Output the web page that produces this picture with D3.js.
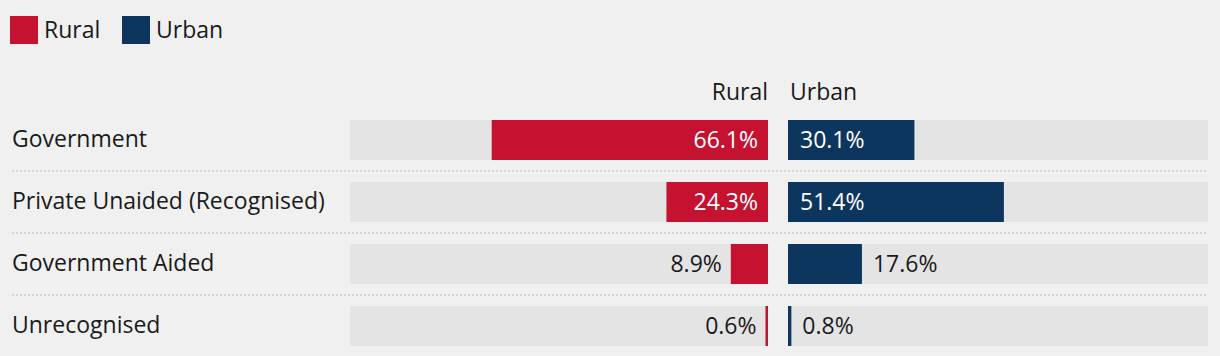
<!DOCTYPE html>
<html>
<head>
<meta charset="utf-8">
<script src="https://cdn.jsdelivr.net/npm/d3@7"></script>
<style>
  html, body { margin: 0; padding: 0; background: #f0f0f0; }
  svg { display: block; }
  text { font-family: "Open Sans", "Source Sans Pro", sans-serif; fill: #1a1a1a; }
</style>
</head>
<body>
<svg id="chart" width="1220" height="356"></svg>
<script>
const categories = ["Government", "Private Unaided (Recognised)", "Government Aided", "Unrecognised"];
const rural = [66.1, 24.3, 8.9, 0.6];
const urban = [30.1, 51.4, 17.6, 0.8];
const seriesNames = ["Rural", "Urban"];
const seriesColors = ["#c41230", "#0d365f"];

const W = 1220, H = 356;
const fontSize = 23;
const svg = d3.select("#chart");

// Legend
const legend = svg.append("g");
const legendX = [10, 122];
seriesNames.forEach((name, i) => {
  const g = legend.append("g").attr("transform", `translate(${legendX[i]},16)`);
  g.append("rect").attr("width", 28).attr("height", 28).attr("fill", seriesColors[i]);
  g.append("text").attr("x", 34).attr("y", 14).attr("dy", "0.36em")
    .style("font-size", fontSize + "px").text(name);
});

const y = d3.scaleBand().domain(categories).range([109, 357])
  .paddingInner(22 / 62).paddingOuter(11 / 62);
const xL = d3.scaleLinear().domain([0, 100]).range([768, 350]);
const xR = d3.scaleLinear().domain([0, 100]).range([788, 1208]);

// Column headers
svg.append("text").attr("x", xL(0)).attr("y", 92).attr("dy", "0.36em")
  .attr("text-anchor", "end").style("font-size", fontSize + "px").text(seriesNames[0]);
svg.append("text").attr("x", xR(0) + 2).attr("y", 92).attr("dy", "0.36em")
  .attr("text-anchor", "start").style("font-size", fontSize + "px").text(seriesNames[1]);

// Separators
categories.slice(0, -1).forEach(c => {
  const yy = y(c) + y.bandwidth() + (y.step() - y.bandwidth()) / 2;
  svg.append("line").attr("x1", 12).attr("x2", xR(100)).attr("y1", yy).attr("y2", yy)
    .attr("stroke", "#d2d2d2").attr("stroke-width", 2).attr("stroke-dasharray", "2,2");
});

const rows = svg.append("g").selectAll("g").data(categories).join("g")
  .attr("transform", d => `translate(0,${y(d)})`);

rows.append("text").attr("x", 12).attr("y", y.bandwidth() / 2).attr("dy", "0.3em")
  .style("font-size", fontSize + "px").text(d => d);

// Background tracks
rows.append("rect").attr("x", xL(100)).attr("width", xL(0) - xL(100))
  .attr("height", y.bandwidth()).attr("fill", "#e4e4e4");
rows.append("rect").attr("x", xR(0)).attr("width", xR(100) - xR(0))
  .attr("height", y.bandwidth()).attr("fill", "#e4e4e4");

// Bars
rows.append("rect").attr("x", (d, i) => xL(rural[i])).attr("width", (d, i) => xL(0) - xL(rural[i]))
  .attr("height", y.bandwidth()).attr("fill", seriesColors[0]);
rows.append("rect").attr("x", xR(0)).attr("width", (d, i) => xR(urban[i]) - xR(0))
  .attr("height", y.bandwidth()).attr("fill", seriesColors[1]);

const fmt = v => v.toFixed(1) + "%";
const inside = v => v > 20;

rows.append("text")
  .attr("x", (d, i) => inside(rural[i]) ? xL(0) - 10 : xL(rural[i]) - 9)
  .attr("y", y.bandwidth() / 2).attr("dy", "0.34em").attr("text-anchor", "end")
  .style("font-size", fontSize + "px")
  .style("fill", (d, i) => inside(rural[i]) ? "#ffffff" : "#1a1a1a")
  .text((d, i) => fmt(rural[i]));

rows.append("text")
  .attr("x", (d, i) => inside(urban[i]) ? xR(0) + 12 : xR(urban[i]) + 11)
  .attr("y", y.bandwidth() / 2).attr("dy", "0.34em").attr("text-anchor", "start")
  .style("font-size", fontSize + "px")
  .style("fill", (d, i) => inside(urban[i]) ? "#ffffff" : "#1a1a1a")
  .text((d, i) => fmt(urban[i]));
</script>
</body>
</html>
